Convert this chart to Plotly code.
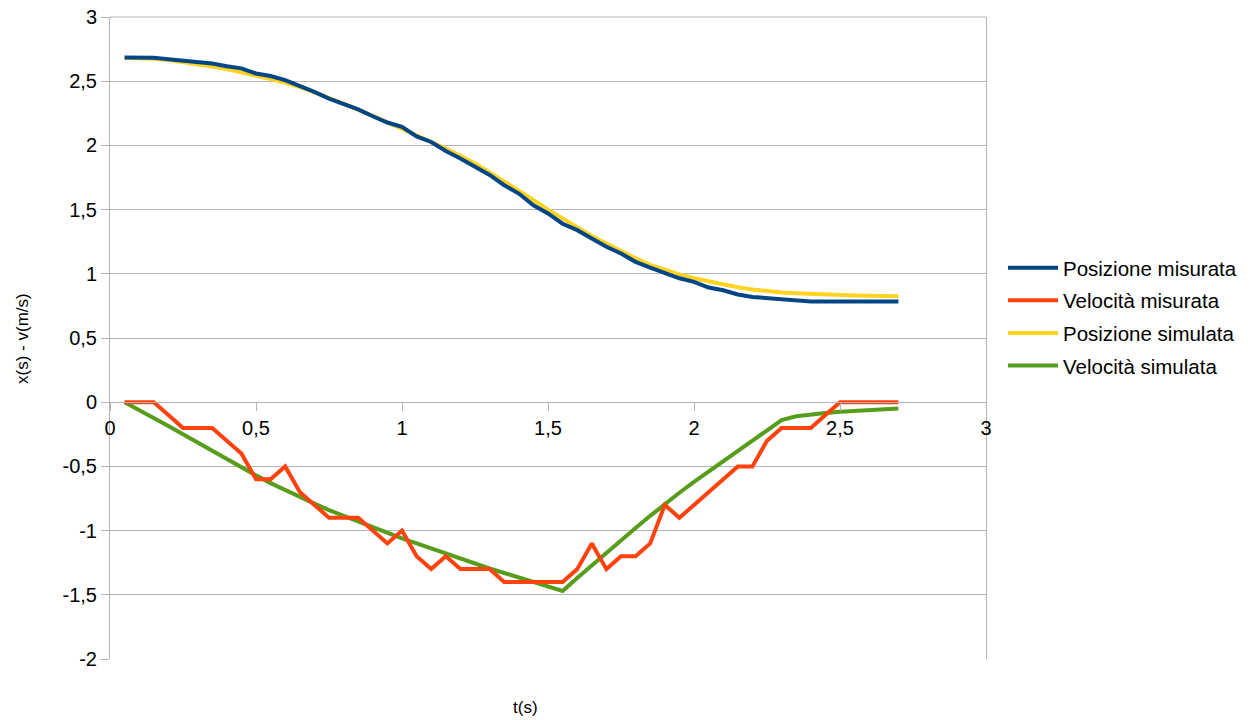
import plotly.graph_objects as go

t = [0.05, 0.10, 0.15, 0.20, 0.25, 0.30, 0.35, 0.40, 0.45, 0.50,
     0.55, 0.60, 0.65, 0.70, 0.75, 0.80, 0.85, 0.90, 0.95, 1.00,
     1.05, 1.10, 1.15, 1.20, 1.25, 1.30, 1.35, 1.40, 1.45, 1.50,
     1.55, 1.60, 1.65, 1.70, 1.75, 1.80, 1.85, 1.90, 1.95, 2.00,
     2.05, 2.10, 2.15, 2.20, 2.25, 2.30, 2.35, 2.40, 2.45, 2.50,
     2.55, 2.60, 2.65, 2.70]

pos_mis = [2.685, 2.685, 2.683, 2.671, 2.660, 2.650, 2.638, 2.617, 2.600, 2.560,
           2.540, 2.508, 2.465, 2.417, 2.365, 2.326, 2.280, 2.227, 2.178, 2.144,
           2.070, 2.027, 1.957, 1.898, 1.838, 1.770, 1.690, 1.625, 1.534, 1.470,
           1.390, 1.340, 1.275, 1.210, 1.158, 1.093, 1.049, 1.007, 0.965, 0.937,
           0.893, 0.872, 0.839, 0.820, 0.812, 0.802, 0.794, 0.784, 0.784, 0.784,
           0.784, 0.784, 0.784, 0.784]

vel_mis = [0.0, 0.0, 0.0, -0.1, -0.2, -0.2, -0.2, -0.3, -0.4, -0.6,
           -0.6, -0.5, -0.7, -0.8, -0.9, -0.9, -0.9, -1.0, -1.1, -1.0,
           -1.2, -1.3, -1.2, -1.3, -1.3, -1.3, -1.4, -1.4, -1.4, -1.4,
           -1.4, -1.3, -1.1, -1.3, -1.2, -1.2, -1.1, -0.8, -0.9, -0.8,
           -0.7, -0.6, -0.5, -0.5, -0.3, -0.2, -0.2, -0.2, -0.1, 0.0,
           0.0, 0.0, 0.0, 0.0]

pos_sim = [2.680, 2.680, 2.675, 2.665, 2.650, 2.635, 2.615, 2.595, 2.570, 2.545,
           2.520, 2.490, 2.455, 2.415, 2.370, 2.325, 2.280, 2.230, 2.180, 2.130,
           2.080, 2.030, 1.975, 1.920, 1.860, 1.790, 1.720, 1.650, 1.575, 1.500,
           1.430, 1.360, 1.295, 1.235, 1.175, 1.120, 1.070, 1.030, 0.995, 0.965,
           0.940, 0.915, 0.895, 0.878, 0.865, 0.855, 0.848, 0.842, 0.838, 0.834,
           0.831, 0.829, 0.827, 0.825]

vel_sim = [0.0, -0.06, -0.12, -0.185, -0.25, -0.315, -0.38, -0.445, -0.51, -0.57,
           -0.63, -0.685, -0.74, -0.79, -0.84, -0.885, -0.93, -0.975, -1.02, -1.06,
           -1.10, -1.14, -1.18, -1.22, -1.26, -1.295, -1.33, -1.365, -1.40, -1.43,
           -1.47, -1.37, -1.27, -1.17, -1.075, -0.98, -0.885, -0.79, -0.705, -0.62,
           -0.54, -0.46, -0.38, -0.30, -0.22, -0.14, -0.11, -0.095, -0.085, -0.075,
           -0.068, -0.06, -0.055, -0.05]

x_ticks = [0, 0.5, 1, 1.5, 2, 2.5, 3]
x_labels = ["0", "0,5", "1", "1,5", "2", "2,5", "3"]
y_ticks = [-2, -1.5, -1, -0.5, 0, 0.5, 1, 1.5, 2, 2.5, 3]
y_labels = ["-2", "-1,5", "-1", "-0,5", "0", "0,5", "1", "1,5", "2", "2,5", "3"]

names = ["Posizione misurata", "Velocità misurata", "Posizione simulata", "Velocità simulata"]
colors = ["#004586", "#ff420e", "#ffd320", "#579d1c"]

fig = go.Figure()
# simulated first so measured lines draw on top
fig.add_trace(go.Scatter(x=t, y=pos_sim, mode="lines", name=names[2], legendgroup="c",
                         line=dict(color=colors[2], width=4), legendrank=3))
fig.add_trace(go.Scatter(x=t, y=vel_sim, mode="lines", name=names[3], legendgroup="d",
                         line=dict(color=colors[3], width=4), legendrank=4))
fig.add_trace(go.Scatter(x=t, y=pos_mis, mode="lines", name=names[0], legendgroup="a",
                         line=dict(color=colors[0], width=4), legendrank=1))
fig.add_trace(go.Scatter(x=t, y=vel_mis, mode="lines", name=names[1], legendgroup="b",
                         line=dict(color=colors[1], width=4), legendrank=2))

grid = "#b3b3b3"
font = "Liberation Sans, Arial, sans-serif"

fig.update_layout(
    width=1252, height=720,
    margin=dict(l=110, r=266, t=17, b=61, autoexpand=False),
    paper_bgcolor="white", plot_bgcolor="white",
    separators=",.",
    font=dict(family=font, size=20, color="black"),
    showlegend=True,
    legend=dict(x=1.0194, y=0.533, xanchor="left", yanchor="middle",
                font=dict(size=20.5), traceorder="grouped", tracegroupgap=3,
                bgcolor="rgba(0,0,0,0)", itemwidth=50),
    xaxis=dict(range=[0, 3], tickvals=x_ticks, ticktext=x_labels, showgrid=False, zeroline=False,
               anchor="free", position=0.4, showline=True, linecolor=grid, linewidth=1,
               ticks="outside", ticklen=8, tickcolor=grid, automargin=False,
               tickfont=dict(size=20, family=font)),
    yaxis=dict(range=[-2, 3], tickvals=y_ticks, ticktext=y_labels, showgrid=True,
               gridcolor=grid, gridwidth=1, automargin=False,
               zeroline=False, showline=True, linecolor=grid, linewidth=1, mirror=True,
               ticks="outside", ticklen=8, tickcolor=grid,
               tickfont=dict(size=20, family=font)),
    shapes=[
        # top border of the plot area (gridline at the top of the range)
        dict(type="line", xref="paper", yref="paper", x0=0, x1=1, y0=1, y1=1,
             line=dict(color=grid, width=1), layer="above"),
    ],
    annotations=[
        dict(text="t(s)", xref="paper", yref="paper", x=0.474, y=-0.0748,
             xanchor="center", yanchor="middle", showarrow=False,
             font=dict(size=17, family=font)),
        dict(text="x(s) - v(m/s)", xref="paper", yref="paper", x=-0.1005, y=0.5,
             xanchor="center", yanchor="middle", showarrow=False, textangle=-90,
             font=dict(size=17, family=font)),
    ],
)

fig.write_html("out.html", config={"displayModeBar": False},
               post_script="document.body.style.margin='0px';")
